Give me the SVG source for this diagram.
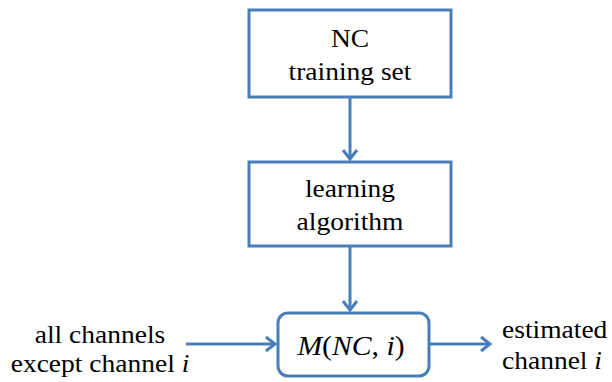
<svg xmlns="http://www.w3.org/2000/svg" width="612" height="382" viewBox="0 0 612 382">
<defs>
<marker id="arrow" viewBox="0 0 20 20" refX="12" refY="10" markerWidth="20" markerHeight="20" markerUnits="userSpaceOnUse" orient="auto">
<path d="M3,3 L12,10 L3,17" fill="none" stroke="#4A7EBB" stroke-width="3"/>
</marker>
</defs>
<rect width="612" height="382" fill="#ffffff"/>
<g id="connectors" fill="none" stroke="#4A7EBB" stroke-width="3">
<line x1="350" y1="97" x2="350" y2="159" marker-end="url(#arrow)"/>
<line x1="350" y1="246" x2="350" y2="310" marker-end="url(#arrow)"/>
<line x1="186" y1="344" x2="275" y2="344" marker-end="url(#arrow)"/>
<line x1="429" y1="344" x2="490" y2="344" marker-end="url(#arrow)"/>
</g>
<g id="node-training">
<rect x="249" y="10" width="202" height="87" fill="#ffffff" stroke="#4A7EBB" stroke-width="3"/>
<text transform="translate(350,47) scale(1.1,1)" x="0" y="0" text-anchor="middle" font-family="Liberation Serif" font-size="25">NC</text>
<text transform="translate(350,80) scale(1.1,1)" x="0" y="0" text-anchor="middle" font-family="Liberation Serif" font-size="25">training set</text>
</g>
<g id="node-learning">
<rect x="249" y="162" width="202" height="84" fill="#ffffff" stroke="#4A7EBB" stroke-width="3"/>
<text transform="translate(350,197) scale(1.1,1)" x="0" y="0" text-anchor="middle" font-family="Liberation Serif" font-size="25">learning</text>
<text transform="translate(350,230) scale(1.1,1)" x="0" y="0" text-anchor="middle" font-family="Liberation Serif" font-size="25">algorithm</text>
</g>
<g id="node-model">
<rect x="278" y="313" width="151" height="63" rx="10" ry="10" fill="#ffffff" stroke="#4A7EBB" stroke-width="3"/>
<text transform="translate(351,355) scale(1.1,1)" x="0" y="0" text-anchor="middle" font-family="Liberation Serif" font-size="27"><tspan font-style="italic">M</tspan>(<tspan font-style="italic">NC</tspan>, <tspan font-style="italic">i</tspan>)</text>
</g>
<g id="label-input">
<text transform="translate(100,343) scale(1.1,1)" x="0" y="0" text-anchor="middle" font-family="Liberation Serif" font-size="25">all channels</text>
<text transform="translate(100,372) scale(1.1,1)" x="0" y="0" text-anchor="middle" font-family="Liberation Serif" font-size="25">except channel <tspan font-style="italic">i</tspan></text>
</g>
<g id="label-output">
<text transform="translate(502,338) scale(1.1,1)" x="0" y="0" font-family="Liberation Serif" font-size="25">estimated</text>
<text transform="translate(502,369) scale(1.1,1)" x="0" y="0" font-family="Liberation Serif" font-size="25">channel <tspan font-style="italic">i</tspan></text>
</g>
</svg>
